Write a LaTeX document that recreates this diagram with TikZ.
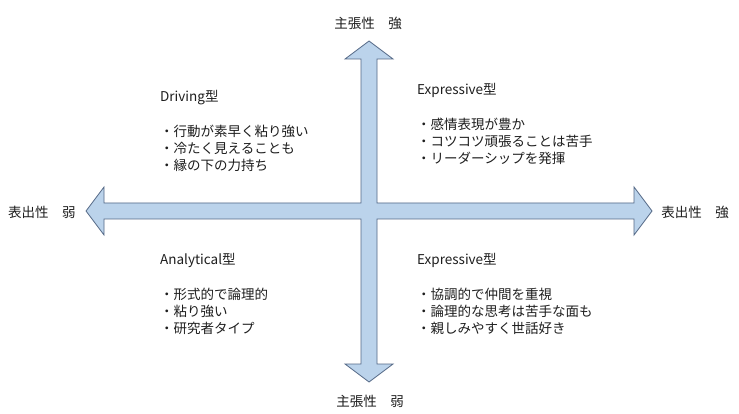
\documentclass[tikz,border=0pt]{standalone}
\usepackage{fontspec}
\setmainfont{Noto Sans CJK JP}
\definecolor{arrowfill}{RGB}{187,211,235}
\definecolor{arrowline}{RGB}{84,104,134}
\definecolor{txt}{RGB}{30,30,30}
\tikzset{
  axislabel/.style={font=\fontsize{13.5}{16}\selectfont, text=txt, inner sep=0pt},
  typetitle/.style={font=\fontsize{13.5}{16}\selectfont, text=txt, inner sep=0pt, anchor=west},
  typelist/.style={font=\fontsize{13.5}{17}\selectfont, text=txt, inner sep=0pt, anchor=west, align=left},
  crossarrow/.style={fill=arrowfill, draw=arrowline, line width=0.8pt, line join=miter}
}
\begin{document}
\begin{tikzpicture}[x=1pt,y=-1pt]
\useasboundingbox (0,0) rectangle (739,414);
\fill[white] (0,0) rectangle (739,414);
% key points of the cross
\coordinate (c) at (369,211);
\coordinate (ttip) at (369,41);
\coordinate (btip) at (369,382);
\coordinate (ltip) at (86,211);
\coordinate (rtip) at (652,211);
% cross-shaped double arrow (union of both axes)
\draw[crossarrow]
  (ttip) -- (393,59) -- (377,59) -- (377,203) -- (634,203) -- (634,187)
  -- (rtip) -- (634,235) -- (634,219) -- (377,219) -- (377,364) -- (393,364)
  -- (btip) -- (345,364) -- (361,364) -- (361,219) -- (104,219) -- (104,235)
  -- (ltip) -- (104,187) -- (104,203) -- (361,203) -- (361,59) -- (345,59) -- cycle;
% axis labels
\node[axislabel] (top) at (368,23) {主張性　強};
\node[axislabel] (bottom) at (370,401) {主張性　弱};
\node[axislabel] (left) at (42,212) {表出性　弱};
\node[axislabel] (right) at (695,212) {表出性　強};
% quadrant texts
\node[typetitle] (drv) at (160,98) {Driving型};
\node[typelist] (drvlist) at (160,148) {・行動が素早く粘り強い\\・冷たく見えることも\\・縁の下の力持ち};
\node[typetitle] (exp1) at (417,90) {Expressive型};
\node[typelist] (exp1list) at (417,141) {・感情表現が豊か\\・コツコツ頑張ることは苦手\\・リーダーシップを発揮};
\node[typetitle] (ana) at (160,260) {Analytical型};
\node[typelist] (analist) at (160,311) {・形式的で論理的\\・粘り強い\\・研究者タイプ};
\node[typetitle] (exp2) at (417,260) {Expressive型};
\node[typelist] (exp2list) at (417,311) {・協調的で仲間を重視\\・論理的な思考は苦手な面も\\・親しみやすく世話好き};
\end{tikzpicture}
\end{document}
